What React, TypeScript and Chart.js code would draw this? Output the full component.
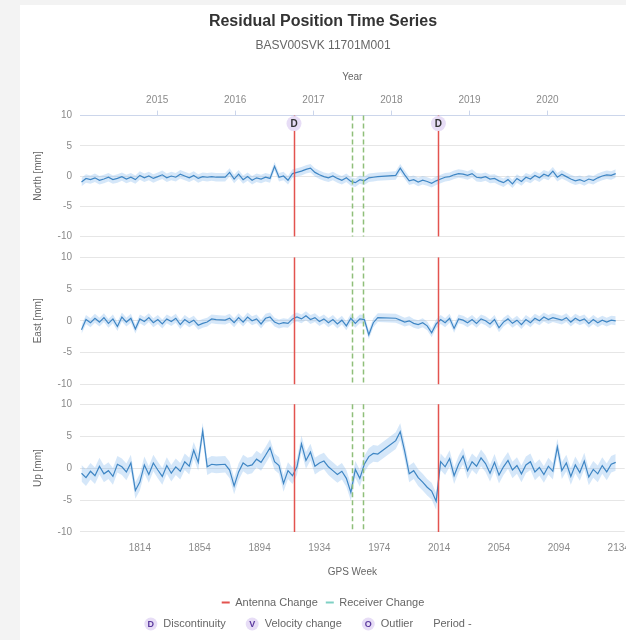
import React, { useEffect, useRef } from 'react';
import { Chart, registerables } from 'chart.js';

Chart.register(...registerables);

// ---------- data ----------
const weeks = [
  1775, 1778, 1781, 1784, 1787, 1790, 1793, 1796, 1799, 1802,
  1805, 1808, 1811, 1814, 1817, 1820, 1823, 1826, 1829, 1832,
  1835, 1838, 1841, 1844, 1847, 1850, 1853, 1856, 1859, 1862,
  1865, 1868, 1871, 1874, 1877, 1880, 1883, 1886, 1889, 1892,
  1895, 1898, 1901, 1904, 1907, 1910, 1913, 1916, 1919, 1922,
  1925, 1928, 1931, 1934, 1937, 1940, 1943, 1946, 1949, 1952,
  1955, 1958, 1961, 1964, 1967, 1970, 1973, 1976, 1979, 1982,
  1985, 1988, 1991, 1994, 1997, 2000, 2003, 2006, 2009, 2012,
  2015, 2018, 2021, 2024, 2027, 2030, 2033, 2036, 2039, 2042,
  2045, 2048, 2051, 2054, 2057, 2060, 2063, 2066, 2069, 2072,
  2075, 2078, 2081, 2084, 2087, 2090, 2093, 2096, 2099, 2102,
  2105, 2108, 2111, 2114, 2117, 2120, 2123, 2126, 2129, 2132,
];

const northMm: (number | null)[] = [
  -1.0, -0.4, -0.6, -0.3, -0.7, -0.5, -0.2, -0.6, -0.4, -0.1,
  -0.5, -0.2, -0.6, 0.1, -0.3, 0.0, -0.4, -0.1, 0.2, -0.3,
  0.0, -0.2, 0.3, 0.0, -0.3, 0.1, -0.4, -0.1, -0.2, -0.1,
  -0.2, null, -0.2, 0.6, -0.5, 0.3, -0.6, -0.1, -0.7, -0.3,
  -0.5, -0.2, -0.4, 1.6, -0.2, 0.0, -0.7, 0.4, 0.6, 0.8,
  1.1, 1.3, 0.6, 0.2, -0.1, -0.3, 0.0, -0.4, -0.7, -0.3,
  -0.9, -1.1, -0.6, -0.8, -0.3, -0.2, -0.1, null, null, null,
  0.1, 1.3, 0.2, -0.8, -0.6, -1.0, -0.7, -0.9, -1.2, -0.8,
  -0.5, -0.2, -0.1, 0.2, 0.4, 0.3, 0.1, 0.4, -0.2, -0.3,
  -0.1, -0.5, -0.4, -0.8, -1.1, -0.6, -1.3, -0.4, -0.9, -0.2,
  -0.5, 0.1, -0.3, 0.3, 0.0, 0.8, -0.2, 0.3, -0.1, -0.5,
  -0.8, -0.6, -0.9, -0.5, -0.7, -0.3, 0.0, 0.2, 0.1, 0.4,
];

const eastMm: (number | null)[] = [
  -1.4, 0.2, -0.3, 0.4, -0.2, 0.5, -0.4, 0.3, -0.9, 0.6,
  -0.2, 0.4, -1.3, 0.3, -0.1, 0.5, -0.3, 0.2, -0.5, 0.3,
  -0.1, 0.4, -0.6, 0.2, -0.3, 0.1, -0.7, -0.4, -0.2, 0.3,
  0.2, null, 0.1, 0.4, -0.3, 0.5, -0.2, 0.6, 0.0, 0.3,
  -0.5, 0.4, 0.6, -0.2, -0.5, -0.3, -0.4, 0.3, 0.6, 0.3,
  0.8, 0.2, 0.5, -0.1, 0.3, -0.3, 0.2, -0.5, 0.1, -0.8,
  0.4, -0.4, 0.3, 0.2, -2.2, -0.3, 0.5, null, null, null,
  0.4, 0.1, -0.2, 0.0, -0.4, -0.6, -0.3, -0.8, -1.9, -0.5,
  0.2, -0.3, 0.4, -1.2, 0.3, 0.1, -0.3, 0.2, -0.4, 0.3,
  0.0, -0.5, 0.2, -1.1, -0.2, 0.3, -0.4, 0.1, -0.6, 0.2,
  -0.3, 0.4, 0.0, 0.6, 0.2, 0.5, 0.3, 0.1, 0.5, -0.2,
  0.4, 0.0, 0.3, -0.4, 0.2, -0.3, 0.1, -0.2, 0.1, 0.0,
];

const upMm: (number | null)[] = [
  -0.8, -1.5, -0.5, -1.2, 0.3, -0.9, -0.4, -1.3, 0.6, 0.2,
  -0.6, 0.8, -3.5, -2.2, 0.5, -1.0, 0.8, -0.3, -1.3, 0.4,
  -0.8, 0.2, -0.5, 1.0, 0.3, 2.8, 0.9, 5.8, 0.2, 0.6,
  0.5, null, 0.6, -0.3, -2.8, -0.6, 0.8, 0.3, 0.5, 1.4,
  0.9, 2.0, 3.2, 1.0, 0.4, -2.4, -0.4, -1.2, 0.2, 3.8,
  1.2, 2.5, 0.3, 0.8, 1.1, 0.2, -0.4, -1.0, -0.5, -1.6,
  -3.8, -0.2, -1.6, 0.6, 1.8, 2.3, 2.2, null, null, null,
  4.3, 5.7, 2.6, -0.9, -0.4, -1.5, -2.2, -3.0, -3.6, -5.2,
  1.0, 0.2, 1.5, -1.2, 0.6, 1.9, -0.4, 1.0, 0.3, 1.6,
  0.7, -0.8, 0.9, -1.1, 0.2, 1.2, -0.3, 0.4, -0.9, 0.5,
  1.0, -0.6, 0.1, -1.0, 0.3, -0.5, 3.3, -0.4, 0.8, -1.3,
  0.5, -0.7, 1.1, -1.4, -0.2, -0.9, 0.4, -0.6, 0.6, 0.9,
];

// half-width of the uncertainty band (mm)
const northSigma = 0.7;
const eastSigma = 0.7;
const upSigma = 1.3;

const antennaChangeWeeks = [1917, 2013.5];
const receiverChangeWeeks = [1956, 1963];
const discontinuityWeeks = [1917, 2013.5];

const gpsWeekTicks = [1814, 1854, 1894, 1934, 1974, 2014, 2054, 2094, 2134];
const yearTickWeeks = [1825.6, 1877.7, 1930.0, 1982.1, 2034.3, 2086.4];
const yearLabels = ['2015', '2016', '2017', '2018', '2019', '2020'];
const weekMin = 1774;
const weekMax = 2138;

const panelTitles = ['North [mm]', 'East [mm]', 'Up [mm]'];
const legendLabels = ['Antenna Change', 'Receiver Change'];
const flagItems = [
  { sym: 'D', label: 'Discontinuity' },
  { sym: 'V', label: 'Velocity change' },
  { sym: 'O', label: 'Outlier' },
];
const periodLabel = 'Period -';

// ---------- styles ----------
const FONT = "'Liberation Sans', Arial, Helvetica, sans-serif";
const LINE_BLUE = '#3f86c4';
const BAND_BLUE = 'rgba(124,181,236,0.32)';
const ANTENNA = '#e3534f';
const RECEIVER = '#8fbf7a';
const RECEIVER_LEGEND = '#7fd0c4';
const GRID = '#e6e6e6';
const TICK = '#8a8a8a';
const PURPLE_BG = '#e7ddf6';
const PURPLE_FG = '#5b3a9e';

Chart.defaults.font.family = FONT;

const toPoints = (vals: (number | null)[], off = 0) =>
  weeks.map((w, i) => ({ x: w, y: vals[i] == null ? null : (vals[i] as number) + off }));

const eventsPlugin = {
  id: 'gnssEvents',
  afterDatasetsDraw(chart: any) {
    const { ctx } = chart;
    const xs = chart.scales.x;
    ctx.save();
    for (const id of ['yN', 'yE', 'yU']) {
      const s = chart.scales[id];
      ctx.lineWidth = 1.5;
      ctx.setLineDash([5, 3]);
      ctx.strokeStyle = RECEIVER;
      for (const w of receiverChangeWeeks) {
        const px = Math.round(xs.getPixelForValue(w)) + 0.5;
        ctx.beginPath();
        ctx.moveTo(px, s.top);
        ctx.lineTo(px, s.bottom);
        ctx.stroke();
      }
      ctx.setLineDash([]);
      ctx.strokeStyle = ANTENNA;
      for (const w of antennaChangeWeeks) {
        const px = Math.round(xs.getPixelForValue(w)) + 0.5;
        ctx.beginPath();
        ctx.moveTo(px, s.top);
        ctx.lineTo(px, s.bottom);
        ctx.stroke();
      }
    }
    const sN = chart.scales.yN;
    for (const w of discontinuityWeeks) {
      const px = xs.getPixelForValue(w);
      const cy = sN.top + 8;
      ctx.beginPath();
      ctx.arc(px, cy, 7.5, 0, Math.PI * 2);
      ctx.fillStyle = PURPLE_BG;
      ctx.fill();
      ctx.fillStyle = '#333';
      ctx.font = `bold 10px ${FONT}`;
      ctx.textAlign = 'center';
      ctx.textBaseline = 'middle';
      ctx.fillText('D', px, cy + 0.5);
    }
    ctx.restore();
  },
  afterDraw(chart: any) {
    const { ctx } = chart;
    const lg = chart.legend;
    const y = lg.bottom + 6;
    ctx.save();
    ctx.font = `11px ${FONT}`;
    const r = 6.5;
    const gapSymText = 6;
    const gapItems = 20;
    let total = 0;
    for (const it of flagItems) total += r * 2 + gapSymText + ctx.measureText(it.label).width + gapItems;
    total += ctx.measureText(periodLabel).width;
    let x = chart.width / 2 - 22 - total / 2;
    for (const it of flagItems) {
      const cx = x + r;
      ctx.beginPath();
      ctx.arc(cx, y, r, 0, Math.PI * 2);
      ctx.fillStyle = PURPLE_BG;
      ctx.fill();
      ctx.fillStyle = PURPLE_FG;
      ctx.font = `bold 9px ${FONT}`;
      ctx.textAlign = 'center';
      ctx.textBaseline = 'middle';
      ctx.fillText(it.sym, cx, y + 0.5);
      ctx.font = `11px ${FONT}`;
      ctx.textAlign = 'left';
      ctx.fillStyle = '#666';
      const tx = x + r * 2 + gapSymText;
      ctx.fillText(it.label, tx, y);
      x = tx + ctx.measureText(it.label).width + gapItems;
    }
    ctx.fillStyle = '#666';
    ctx.textAlign = 'left';
    ctx.textBaseline = 'middle';
    ctx.fillText(periodLabel, x, y);
    ctx.restore();
  },
};

const yPanel = (title: string, weight: number, stackWeight: number) => ({
  type: 'linear',
  position: 'left',
  stack: 'panels',
  stackWeight,
  weight,
  min: -10,
  max: 10,
  ticks: { stepSize: 5, padding: 8, color: TICK, font: { size: 10 } },
  grid: { color: GRID, drawTicks: false },
  border: { display: false },
  title: { display: true, text: title, color: '#666', font: { size: 10 }, padding: { top: 12, bottom: 0 } },
  afterFit: (s: any) => {
    s.width = 60;
  },
});

const spacer = (weight: number, stackWeight: number) => ({
  type: 'linear',
  position: 'left',
  stack: 'panels',
  stackWeight,
  weight,
  min: 0,
  max: 1,
  ticks: { display: false },
  grid: { display: false, drawTicks: false },
  border: { display: false },
  afterFit: (s: any) => {
    s.width = 60;
  },
});

export default function App() {
  const ref = useRef<HTMLCanvasElement>(null);
  useEffect(() => {
    const lineDs = (label: string, vals: (number | null)[], yAxisID: string) => ({
      label,
      data: toPoints(vals),
      borderColor: LINE_BLUE,
      backgroundColor: LINE_BLUE,
      borderWidth: 1.2,
      pointRadius: 0,
      spanGaps: true,
      tension: 0,
      xAxisID: 'x',
      yAxisID,
    });
    const bandDs = (vals: (number | null)[], sigma: number, yAxisID: string, upper: boolean) => ({
      data: toPoints(vals, upper ? sigma : -sigma),
      borderWidth: 0,
      borderColor: 'rgba(0,0,0,0)',
      backgroundColor: BAND_BLUE,
      pointRadius: 0,
      spanGaps: true,
      tension: 0,
      fill: upper ? false : '-1',
      xAxisID: 'x',
      yAxisID,
    });
    const chart = new Chart(ref.current as HTMLCanvasElement, {
      type: 'line',
      data: {
        datasets: [
          lineDs('North', northMm, 'yN'),
          lineDs('East', eastMm, 'yE'),
          lineDs('Up', upMm, 'yU'),
          bandDs(northMm, northSigma, 'yN', true),
          bandDs(northMm, northSigma, 'yN', false),
          bandDs(eastMm, eastSigma, 'yE', true),
          bandDs(eastMm, eastSigma, 'yE', false),
          bandDs(upMm, upSigma, 'yU', true),
          bandDs(upMm, upSigma, 'yU', false),
          {
            label: legendLabels[0],
            data: [],
            backgroundColor: ANTENNA,
            borderColor: ANTENNA,
            borderWidth: 0,
            xAxisID: 'x',
            yAxisID: 'yN',
          },
          {
            label: legendLabels[1],
            data: [],
            backgroundColor: RECEIVER_LEGEND,
            borderColor: RECEIVER_LEGEND,
            borderWidth: 0,
            xAxisID: 'x',
            yAxisID: 'yN',
          },
        ] as any,
      },
      options: {
        animation: false,
        responsive: false,
        events: [],
        layout: { padding: { left: 0, right: 14, top: 0, bottom: 22 } },
        plugins: {
          title: {
            display: true,
            text: 'Residual Position Time Series',
            color: '#333',
            font: { size: 16, weight: 'bold' },
            padding: { top: 7, bottom: 0 },
          },
          subtitle: {
            display: true,
            text: 'BASV00SVK 11701M001',
            color: '#666',
            font: { size: 12 },
            padding: { top: 7, bottom: 0 },
          },
          legend: {
            position: 'bottom',
            labels: {
              filter: (item: any) => legendLabels.includes(item.text),
              boxWidth: 8,
              boxHeight: 2,
              color: '#666',
              font: { size: 11 },
              padding: 8,
            },
          },
          tooltip: { enabled: false },
        },
        scales: {
          x: {
            type: 'linear',
            position: 'bottom',
            min: weekMin,
            max: weekMax,
            afterBuildTicks: (s: any) => {
              s.ticks = gpsWeekTicks.map((v) => ({ value: v }));
            },
            grid: { display: false, drawTicks: false },
            border: { display: false },
            ticks: {
              padding: 10,
              color: TICK,
              font: { size: 10 },
              autoSkip: false,
              maxRotation: 0,
              callback: (v: any) => String(v),
            },
            title: { display: true, text: 'GPS Week', color: '#666', font: { size: 10 }, padding: { top: 2, bottom: 11 } },
          },
          xTop: {
            type: 'linear',
            position: 'top',
            min: weekMin,
            max: weekMax,
            afterBuildTicks: (s: any) => {
              s.ticks = yearTickWeeks.map((v) => ({ value: v }));
            },
            grid: { display: true, drawOnChartArea: false, drawTicks: true, tickLength: 5, color: '#ccd6eb' },
            border: { display: true, color: '#ccd6eb' },
            ticks: {
              padding: 4,
              color: TICK,
              font: { size: 10 },
              autoSkip: false,
              maxRotation: 0,
              callback: (_v: any, i: number) => yearLabels[i],
            },
            title: { display: true, text: 'Year', color: '#666', font: { size: 10 }, padding: { top: 19, bottom: 7 } },
          },
          yN: yPanel(panelTitles[0], 5, 121),
          gap1: spacer(4, 21),
          yE: yPanel(panelTitles[1], 3, 127),
          gap2: spacer(2, 20),
          yU: yPanel(panelTitles[2], 1, 128),
        } as any,
      },
      plugins: [eventsPlugin],
    } as any);
    return () => chart.destroy();
  }, []);

  return (
    <div
      style={{
        position: 'fixed',
        left: 0,
        top: 0,
        width: 626,
        height: 640,
        overflow: 'hidden',
        background: '#f3f3f3',
      }}
    >
      <div style={{ position: 'absolute', left: 20, top: 5, width: 620, height: 635, background: '#ffffff' }}>
        <canvas ref={ref} width={620} height={635} style={{ display: 'block', width: 620, height: 635 }} />
      </div>
    </div>
  );
}
